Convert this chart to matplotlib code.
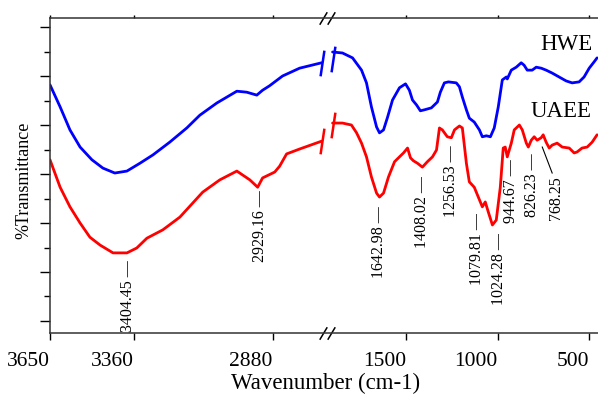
import numpy as np
import matplotlib
matplotlib.use('Agg')
import matplotlib.pyplot as plt

plt.rcParams['font.family'] = ['Liberation Serif', 'DejaVu Serif']

# FTIR spectra, wavenumber (cm-1) vs transmittance (arbitrary units)
hwe_hi_wn = [3650, 3615, 3581, 3546, 3505, 3467, 3426, 3384, 3339, 3294, 3236, 3177,
             3132, 3073, 3004, 2970, 2935, 2915, 2891, 2846, 2787, 2711]
hwe_hi_t = [48.2, 43.7, 39.0, 35.5, 32.9, 31.2, 30.2, 30.6, 32.2, 33.9, 36.5, 39.4,
            42.0, 44.5, 46.9, 46.7, 46.1, 47.1, 48.0, 50.0, 51.6, 52.7]

hwe_lo_wn = [1900, 1846, 1791, 1742, 1715, 1688, 1660, 1644, 1622, 1600, 1573, 1535,
             1502, 1481, 1464, 1442, 1421, 1399, 1361, 1328, 1312, 1290, 1268, 1225,
             1208, 1192, 1170, 1154, 1127, 1099, 1083, 1061, 1039, 1018, 996, 974,
             952, 947, 925, 898, 871, 855, 838, 811, 789, 762, 735, 702, 664, 626,
             593, 555, 528, 500, 473, 457]
hwe_lo_t = [54.9, 54.7, 53.7, 51.2, 48.6, 43.7, 39.6, 38.4, 39.0, 41.6, 45.1, 47.6,
            48.4, 47.1, 45.1, 44.1, 42.9, 43.1, 43.5, 44.7, 46.7, 48.6, 48.8, 48.6,
            47.8, 45.7, 43.1, 41.4, 40.6, 39.0, 37.6, 37.8, 37.6, 39.4, 43.7, 49.2,
            49.8, 49.4, 51.2, 51.8, 52.7, 52.2, 51.2, 51.2, 51.8, 51.6, 51.2, 50.6,
            49.8, 49.0, 48.6, 48.8, 49.8, 51.6, 52.9, 53.7]

uaee_hi_wn = [3650, 3615, 3581, 3546, 3512, 3477, 3432, 3384, 3350, 3315, 3260, 3201,
              3122, 3063, 3004, 2984, 2959, 2932, 2915, 2873, 2856, 2832, 2787, 2711]
uaee_hi_t = [32.9, 27.3, 23.3, 20.0, 17.1, 15.5, 13.9, 13.9, 14.9, 16.9, 18.6, 21.2,
             26.3, 28.8, 30.6, 29.8, 28.8, 27.3, 29.2, 30.4, 31.6, 34.1, 35.1, 36.7]

uaee_lo_wn = [1900, 1846, 1797, 1769, 1742, 1715, 1688, 1660, 1644, 1622, 1595, 1562,
              1535, 1513, 1491, 1475, 1459, 1437, 1410, 1383, 1355, 1333, 1317, 1301,
              1274, 1252, 1235, 1208, 1192, 1170, 1154, 1127, 1105, 1083, 1067, 1050,
              1028, 1007, 985, 969, 958, 947, 925, 909, 881, 865, 843, 832, 816, 800,
              784, 762, 751, 735, 718, 702, 675, 647, 609, 582, 566, 539, 511, 484, 457]
uaee_lo_t = [40.4, 40.4, 40.0, 38.4, 36.3, 33.5, 29.4, 26.1, 25.3, 26.1, 29.4, 32.5,
             33.5, 34.3, 35.3, 33.3, 32.7, 32.2, 31.4, 32.5, 33.5, 34.9, 39.4, 39.0,
             37.6, 37.4, 39.0, 39.8, 39.4, 32.2, 28.4, 27.3, 25.3, 23.3, 24.3, 22.2,
             19.6, 20.6, 27.3, 35.3, 35.5, 33.5, 36.3, 39.0, 40.0, 39.0, 36.3, 35.5,
             36.9, 37.6, 36.9, 37.4, 38.0, 36.5, 35.3, 35.9, 36.3, 35.5, 35.3, 34.3,
             34.5, 35.3, 35.5, 36.5, 38.0]

peak_labels = ['3404.45', '2929.16', '1642.98', '1408.02', '1256.53',
               '1079.81', '1024.28', '944.67', '826.23', '768.25']
xtick_vals = [3650, 3360, 2880, 1500, 1000, 500]

# label placement (wavenumber, bottom of text)
label_x = [3381, 2925, 1644, 1410, 1252, 1110, 990, 925, 811, 680]
label_y = [-2.2, 12.0, 8.8, 14.9, 21.2, 7.3, 3.3, 20.0, 21.2, 20.6]

# broken axis: two linear pieces joined by a short gap (increasing in position)
knot_wn = np.array([0.0, 1900.0, 2711.0, 5000.0])
knot_pos = -np.array([333 + 1900 * 0.1836, 333.0, 322.0, 50 - 1350 * 0.2897])


def fwd(w):
    return np.interp(w, knot_wn, knot_pos)


def inv(p):
    return np.interp(p, knot_pos, knot_wn)


fig = plt.figure(figsize=(5.98, 3.94), dpi=100)
ax = fig.add_axes([50 / 598, (394 - 333) / 394, 548 / 598, 315 / 394])
ax.set_xscale('function', functions=(fwd, inv))

blue = '#0000ff'
red = '#ff0000'
end_mark = [(-0.15, -1), (0.15, 1)]

for wn, t, c in [(hwe_hi_wn, hwe_hi_t, blue), (hwe_lo_wn, hwe_lo_t, blue),
                 (uaee_hi_wn, uaee_hi_t, red), (uaee_lo_wn, uaee_lo_t, red)]:
    ax.plot(wn, t, color=c, lw=2, solid_capstyle='round', solid_joinstyle='round')

for wn, t, c in [(hwe_hi_wn[-1], hwe_hi_t[-1], blue), (hwe_lo_wn[0], hwe_lo_t[0] - 1.5, blue),
                 (uaee_hi_wn[-1], uaee_hi_t[-1], red), (uaee_lo_wn[0], uaee_lo_t[0] - 0.3, red)]:
    ax.plot([wn], [t], marker=end_mark, markersize=18.5, markeredgewidth=1.8,
            color=c, linestyle='none')

for lab, x, y in zip(peak_labels, label_x, label_y):
    s = lab if lab == '768.25' else lab + ' \u2014'
    ax.text(x, y, s, rotation=90, ha='center', va='bottom', fontsize=11.5)
ax.plot([702, 756], [30.2, 35.5], color='black', lw=0.8)

ax.text(0.894, 0.898, 'HWE', transform=ax.transAxes, fontsize=16.5, va='baseline',
        clip_on=False)
ax.text(0.876, 0.686, 'UAEE', transform=ax.transAxes, fontsize=16.5, va='baseline',
        clip_on=False)

ax.set_xlim(3650, 452)
ax.set_ylim(-2.45, 61.84)
ax.set_xticks(xtick_vals)
ax.set_xticklabels([str(v) for v in xtick_vals], ha='right')
ax.set_yticks(np.arange(0, 61, 10))
ax.set_yticks(np.arange(5, 60, 10), minor=True)
ax.set_yticklabels([])
ax.xaxis.set_minor_locator(matplotlib.ticker.NullLocator())
ax.tick_params(axis='x', direction='out', length=5, width=1, labelsize=15.5, pad=9,
               top=True)
for tk in ax.xaxis.get_major_ticks():
    tk.tick2line.set_markersize(2)
ax.tick_params(axis='y', which='major', direction='out', length=7, width=1)
ax.tick_params(axis='y', which='minor', direction='out', length=4, width=1)
ax.spines['right'].set_visible(False)
for s in ['top', 'bottom', 'left']:
    ax.spines[s].set_linewidth(1.1)
    ax.spines[s].set_color('#333333')

# break marks on top and bottom spines
slash = [(-0.6, -1), (0.6, 1)]
for xa in [0.498, 0.513]:
    for ya in [0.0, 1.0]:
        ax.plot([xa], [ya], marker=slash, markersize=9, markeredgewidth=1.1,
                color='black', transform=ax.transAxes, clip_on=False, linestyle='none')

ax.set_xlabel('Wavenumber (cm-1)', fontsize=16.5)
ax.xaxis.set_label_coords(0.502, -0.125)
ax.set_ylabel('%Transmittance', fontsize=13)
ax.yaxis.set_label_coords(-0.033, 0.486)

fig.savefig('out.png', dpi=100)
